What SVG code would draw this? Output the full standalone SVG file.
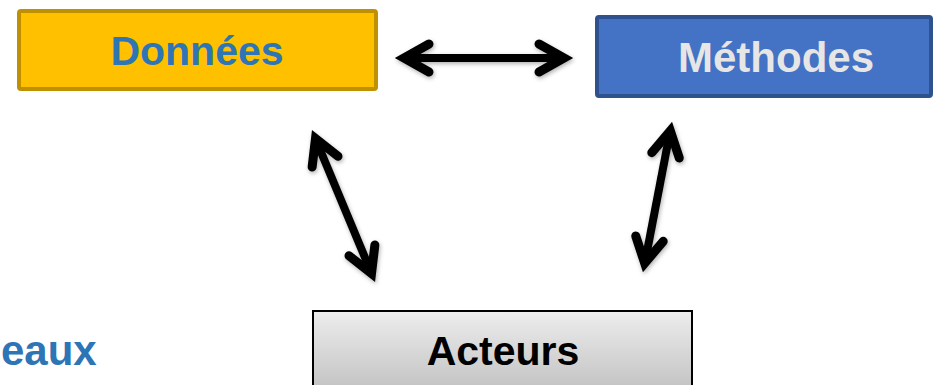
<svg xmlns="http://www.w3.org/2000/svg" xmlns:xlink="http://www.w3.org/1999/xlink" width="936" height="385" viewBox="0 0 936 385">
  <style>
    .lbl { font-family: "Liberation Sans", Arial, sans-serif; font-weight: bold; font-size: 41px; text-anchor: middle; }
    .arr { fill: none; stroke: #000; stroke-width: 9; stroke-linecap: round; stroke-linejoin: miter; }
    .shaft { fill: none; stroke: #000; stroke-width: 8; stroke-linecap: butt; }
  </style>
  <defs>
    <linearGradient id="grayGrad" x1="0" y1="0" x2="0" y2="1">
      <stop offset="0" stop-color="#EDEDED"/>
      <stop offset="1" stop-color="#BDBDBD"/>
    </linearGradient>
    <filter id="shadow" x="-20%" y="-20%" width="140%" height="140%">
      <feDropShadow dx="1" dy="2" stdDeviation="2" flood-color="#000" flood-opacity="0.3"/>
    </filter>
    <path id="head" d="M -25 -14 L 0 0 L -25 14"/>
  </defs>

  <rect width="936" height="385" fill="#FFFFFF"/>

  <g id="donnees">
    <rect x="19" y="11" width="357" height="78" rx="2" fill="#FFC000" stroke="#BF9000" stroke-width="4"/>
    <text class="lbl" x="197" y="65" fill="#2E75B6">Données</text>
  </g>

  <g id="methodes">
    <rect x="597" y="17" width="334" height="79" rx="2" fill="#4472C4" stroke="#2F528F" stroke-width="4"/>
    <text class="lbl" x="776" y="72" fill="#E7E6E6" style="font-size:42px">Méthodes</text>
  </g>

  <g id="acteurs">
    <rect x="313" y="311" width="379" height="90" fill="url(#grayGrad)" stroke="#000" stroke-width="2"/>
    <text class="lbl" x="503" y="365" fill="#000">Acteurs</text>
  </g>

  <g id="reseaux">
    <text class="lbl" x="1" y="365" fill="#2E75B6" style="text-anchor:start; font-size:42px">eaux</text>
  </g>

  <g id="connectors" filter="url(#shadow)">
    <!-- Données <-> Méthodes -->
    <g>
      <line class="shaft" x1="405" y1="58" x2="563" y2="58"/>
      <use xlink:href="#head" href="#head" class="arr" transform="translate(404,58) rotate(180)"/>
      <use xlink:href="#head" href="#head" class="arr" transform="translate(564,58)"/>
    </g>
    <!-- Données <-> Acteurs -->
    <g>
      <line class="shaft" x1="316" y1="140" x2="371" y2="272"/>
      <use xlink:href="#head" href="#head" class="arr" transform="translate(315.5,138.5) rotate(-112.5)"/>
      <use xlink:href="#head" href="#head" class="arr" transform="translate(371.5,273.5) rotate(67.5)"/>
    </g>
    <!-- Méthodes <-> Acteurs -->
    <g>
      <line class="shaft" x1="670" y1="132" x2="645" y2="262"/>
      <use xlink:href="#head" href="#head" class="arr" transform="translate(670.3,130.8) rotate(-79)"/>
      <use xlink:href="#head" href="#head" class="arr" transform="translate(644.7,263.2) rotate(101)"/>
    </g>
  </g>
</svg>
